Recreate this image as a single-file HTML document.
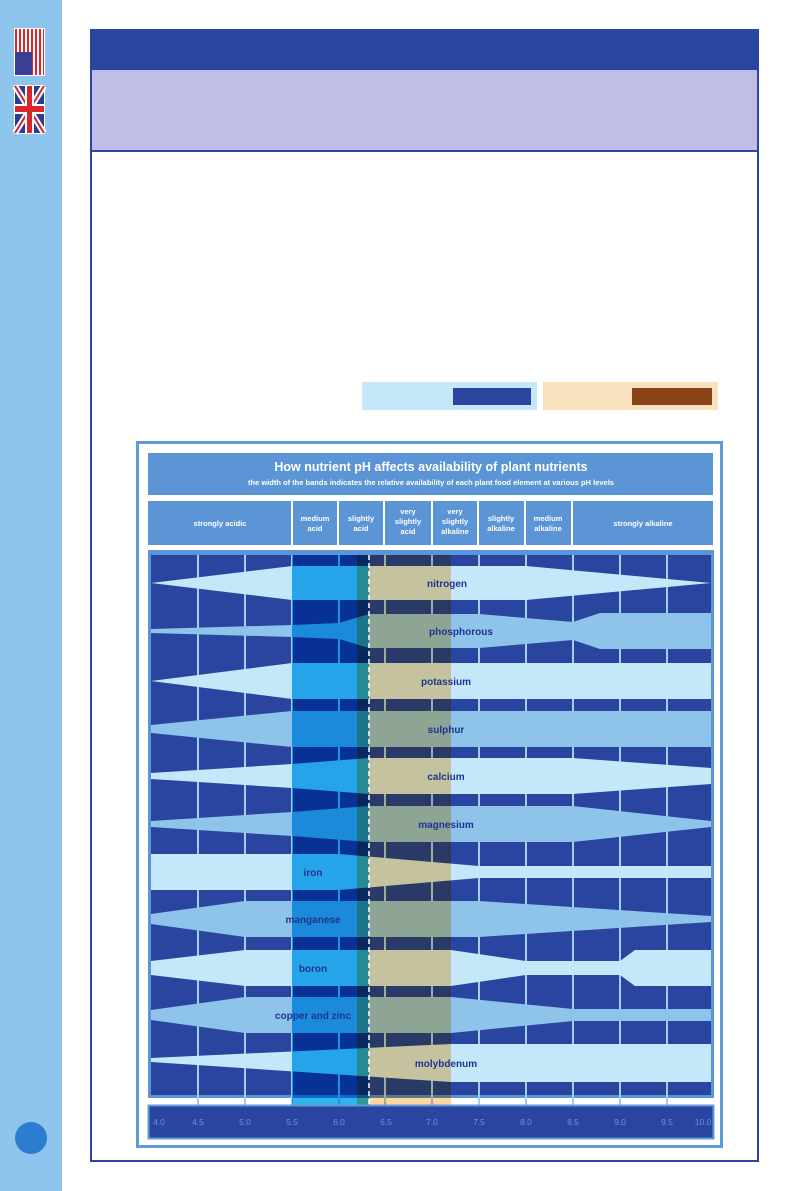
<!DOCTYPE html>
<html><head><meta charset="utf-8"><style>
html,body{margin:0;padding:0;background:#fff;}
svg{display:block;font-family:"Liberation Sans",sans-serif;}
</style></head><body>
<svg width="794" height="1191" viewBox="0 0 794 1191" xmlns="http://www.w3.org/2000/svg">
<rect x="0" y="0" width="62" height="1191" fill="#8ec5ec"/>
<!-- US flag -->
<rect x="14" y="28" width="31" height="48" fill="#fff"/>
<g fill="#d8262b"><rect x="15" y="29" width="2" height="46"/><rect x="19" y="29" width="2" height="46"/><rect x="23" y="29" width="2" height="46"/><rect x="27" y="29" width="2" height="46"/><rect x="31" y="29" width="2" height="46"/><rect x="35" y="29" width="2" height="46"/><rect x="39" y="29" width="2" height="46"/><rect x="43" y="29" width="1" height="46"/></g>
<rect x="15" y="52" width="17" height="23" fill="#3a3f95"/>
<!-- UK flag -->
<rect x="14" y="85" width="31" height="49" fill="#fff"/>
<rect x="15" y="86" width="29" height="47" fill="#2e3b96"/>
<path d="M15 86 L44 133 M44 86 L15 133" stroke="#fff" stroke-width="6"/>
<path d="M15 86 L44 133 M44 86 L15 133" stroke="#d8262b" stroke-width="2"/>
<rect x="25" y="86" width="9" height="47" fill="#fff"/><rect x="15" y="104" width="29" height="10" fill="#fff"/>
<rect x="27" y="86" width="5" height="47" fill="#d8262b"/><rect x="15" y="106" width="29" height="6" fill="#d8262b"/>
<circle cx="31" cy="1138" r="16" fill="#2c7dd0"/>
<!-- main box -->
<rect x="91" y="30" width="667" height="1131" fill="#fff" stroke="#2a45a0" stroke-width="2"/>
<rect x="90" y="29" width="669" height="41" fill="#2a45a0"/>
<rect x="92" y="70" width="665" height="81" fill="#c0bde6"/>
<rect x="90" y="150" width="669" height="2" fill="#2a45a0"/>
<!-- legend -->
<rect x="362" y="382" width="175" height="28" fill="#c4e8fa"/>
<rect x="453" y="388" width="78" height="17" fill="#2a45a0"/>
<rect x="543" y="382" width="175" height="28" fill="#f8e1bd"/>
<rect x="632" y="388" width="80" height="17" fill="#8a4418"/>
<!-- chart frame -->
<rect x="137.5" y="442.5" width="584" height="704" fill="#fff" stroke="#5f9bd8" stroke-width="3"/>
<rect x="148" y="453" width="565" height="42" fill="#5b95d6"/>
<text x="431" y="471" fill="#fff" font-size="12.5" font-weight="bold" text-anchor="middle">How nutrient pH affects availability of plant nutrients</text>
<text x="431" y="485" fill="#fff" font-size="7.5" font-weight="bold" text-anchor="middle">the width of the bands indicates the relative availability of each plant food element at various pH levels</text>
<!-- header row -->
<g fill="#5b95d6">
<rect x="148" y="501" width="143" height="44"/><rect x="293" y="501" width="44" height="44"/><rect x="339" y="501" width="44" height="44"/>
<rect x="385" y="501" width="46" height="44"/><rect x="433" y="501" width="44" height="44"/><rect x="479" y="501" width="45" height="44"/>
<rect x="526" y="501" width="45" height="44"/><rect x="573" y="501" width="140" height="44"/>
</g>
<g fill="#fff" font-size="7.5" font-weight="bold" text-anchor="middle">
<text x="220" y="526">strongly acidic</text>
<text x="315" y="521">medium</text><text x="315" y="531">acid</text>
<text x="361" y="521">slightly</text><text x="361" y="531">acid</text>
<text x="408" y="514">very</text><text x="408" y="524">slightly</text><text x="408" y="534">acid</text>
<text x="455" y="514">very</text><text x="455" y="524">slightly</text><text x="455" y="534">alkaline</text>
<text x="501" y="521">slightly</text><text x="501" y="531">alkaline</text>
<text x="548" y="521">medium</text><text x="548" y="531">alkaline</text>
<text x="643" y="526">strongly alkaline</text>
</g>
<!-- plot -->
<rect x="148" y="550" width="566" height="548" fill="#5b95d6"/>
<rect x="151" y="555" width="560" height="540" fill="#2a45a0"/>
<g fill="#9fd0f0">
<rect x="197" y="555" width="2" height="550"/><rect x="244" y="555" width="2" height="550"/><rect x="291" y="555" width="2" height="550"/>
<rect x="338" y="555" width="2" height="550"/><rect x="384" y="555" width="2" height="550"/><rect x="431" y="555" width="2" height="550"/>
<rect x="478" y="555" width="2" height="550"/><rect x="525" y="555" width="2" height="550"/><rect x="572" y="555" width="2" height="550"/>
<rect x="619" y="555" width="2" height="550"/><rect x="666" y="555" width="2" height="550"/>
</g>
<g fill="#c4e8fa">
<polygon points="151,583 292,566 526,566 711,583 526,600 292,600"/>
<polygon points="151,681 292,663 711,663 711,699 292,699"/>
<polygon points="151,773 292,764 369,758 573,758 711,768 711,784 573,794 369,794 292,788 151,779"/>
<polygon points="151,854 339,854 479,866 711,866 711,878 479,878 339,890 151,890"/>
<polygon points="151,961 245,950 451,950 526,961 620,961 635,950 711,950 711,986 635,986 620,975 526,975 451,986 245,986 151,975"/>
<polygon points="151,1058 451,1044 711,1044 711,1082 451,1082 151,1062"/>
</g>
<g fill="#8ec3ea">
<polygon points="151,629 292,625 339,623 369,614 479,614 573,622 600,613 711,613 711,649 600,649 573,640 479,648 369,648 339,639 292,637 151,633"/>
<polygon points="151,725 292,711 711,711 711,747 292,747 151,733"/>
<polygon points="151,821 292,812 369,806 573,806 711,821 711,827 573,842 369,842 292,836 151,827"/>
<polygon points="151,914 245,901 479,901 711,916 711,922 479,937 245,937 151,924"/>
<polygon points="151,1010 245,997 451,997 573,1009 711,1009 711,1021 573,1021 451,1033 245,1033 151,1020"/>
</g>
<rect x="292" y="555" width="77" height="550" fill="#30b4ee" style="mix-blend-mode:multiply"/>
<rect x="357" y="555" width="94" height="550" fill="#ffd6a2" style="mix-blend-mode:multiply"/>
<line x1="369" y1="555" x2="369" y2="1105" stroke="#fff" stroke-width="1.5" stroke-dasharray="5,3"/>
<g fill="#1f3590" font-size="10" font-weight="bold" text-anchor="middle">
<text x="447" y="587">nitrogen</text>
<text x="461" y="635">phosphorous</text>
<text x="446" y="685">potassium</text>
<text x="446" y="733">sulphur</text>
<text x="446" y="780">calcium</text>
<text x="446" y="828">magnesium</text>
<text x="313" y="876">iron</text>
<text x="313" y="923">manganese</text>
<text x="313" y="972">boron</text>
<text x="313" y="1019">copper and zinc</text>
<text x="446" y="1067">molybdenum</text>
</g>
<!-- axis -->
<rect x="148.5" y="1105.5" width="565" height="33" fill="#2a45a0" stroke="#5f9bd8" stroke-width="2"/>
<g fill="#5f9bd8" font-size="8.5" text-anchor="middle">
<text x="159" y="1125">4.0</text><text x="198" y="1125">4.5</text><text x="245" y="1125">5.0</text><text x="292" y="1125">5.5</text>
<text x="339" y="1125">6.0</text><text x="386" y="1125">6.5</text><text x="432" y="1125">7.0</text><text x="479" y="1125">7.5</text>
<text x="526" y="1125">8.0</text><text x="573" y="1125">8.5</text><text x="620" y="1125">9.0</text><text x="667" y="1125">9.5</text>
<text x="703" y="1125">10.0</text>
</g>
</svg>
</body></html>
